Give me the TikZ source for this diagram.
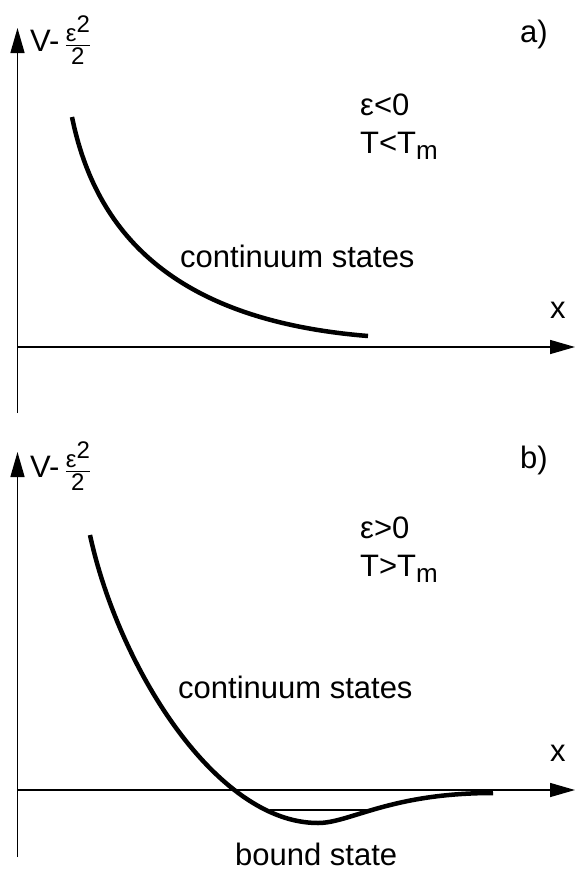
\documentclass[tikz,border=0pt]{standalone}
\usepackage{amsmath}
\usepackage{fontspec}
\setmainfont{Liberation Sans}
\usetikzlibrary{arrows.meta}
\newcommand{\fracfont}{\fontsize{24}{24}\selectfont}
\newcommand{\vlabel}{V-\,$\genfrac{}{}{1.3pt}{}{\hbox{\fracfont ε\raisebox{9pt}{2}}}{\hbox{\fracfont 2}}$}
\newcommand{\tsub}{\raisebox{-6pt}{\fontsize{26}{26}\selectfont m}}
\tikzset{
  axis/.style={line width=1.5pt, -{Triangle[length=25pt,width=14pt]}},
  curve/.style={line width=4.5pt},
  lbl/.style={font=\fontsize{31}{36}\selectfont, inner sep=0pt}
}
\begin{document}
\begin{tikzpicture}[x=1pt,y=-1pt]
\useasboundingbox (0,0) rectangle (576,871);

\coordinate (ya0) at (17.5,413);
\coordinate (ya1) at (17.5,28);
\coordinate (xa0) at (17.5,347);
\coordinate (xa1) at (575,347);
\coordinate (yb0) at (17.5,857);
\coordinate (yb1) at (17.5,452);
\coordinate (xb0) at (17.5,790);
\coordinate (xb1) at (575,790);
\coordinate (bs0) at (270,810);
\coordinate (bs1) at (370,810);

\draw[axis] (ya0) -- (ya1);
\draw[axis] (xa0) -- (xa1);
\draw[axis] (yb0) -- (yb1);
\draw[axis] (xb0) -- (xb1);

\draw[curve] (72,117) .. controls (95,230) and (170,320) .. (368,336);
\draw[curve] (90,535) .. controls (118,665) and (215,823) .. (318,823)
  .. controls (350,823) and (390,793) .. (493,793);
\draw[line width=1.5pt] (bs0) -- (bs1);

\node[lbl, anchor=west] (va) at (30,40) {\vlabel};
\node[lbl, anchor=base west] (pa) at (520,42) {a)};
\node[lbl, anchor=base west] (ea) at (360,115) {ε<0};
\node[lbl, anchor=base west] (ta) at (360,153) {T<T\tsub};
\node[lbl, anchor=base west] (ca) at (180,267) {continuum states};
\node[lbl, anchor=base west] (xa) at (550,318) {x};

\node[lbl, anchor=west] (vb) at (30,466) {\vlabel};
\node[lbl, anchor=base west] (pb) at (520,468) {b)};
\node[lbl, anchor=base west] (eb) at (360,538) {ε>0};
\node[lbl, anchor=base west] (tb) at (360,576) {T>T\tsub};
\node[lbl, anchor=base west] (cb) at (178,698) {continuum states};
\node[lbl, anchor=base west] (xb) at (550,761) {x};
\node[lbl, anchor=base west] (bd) at (235,865) {bound state};
\end{tikzpicture}
\end{document}
